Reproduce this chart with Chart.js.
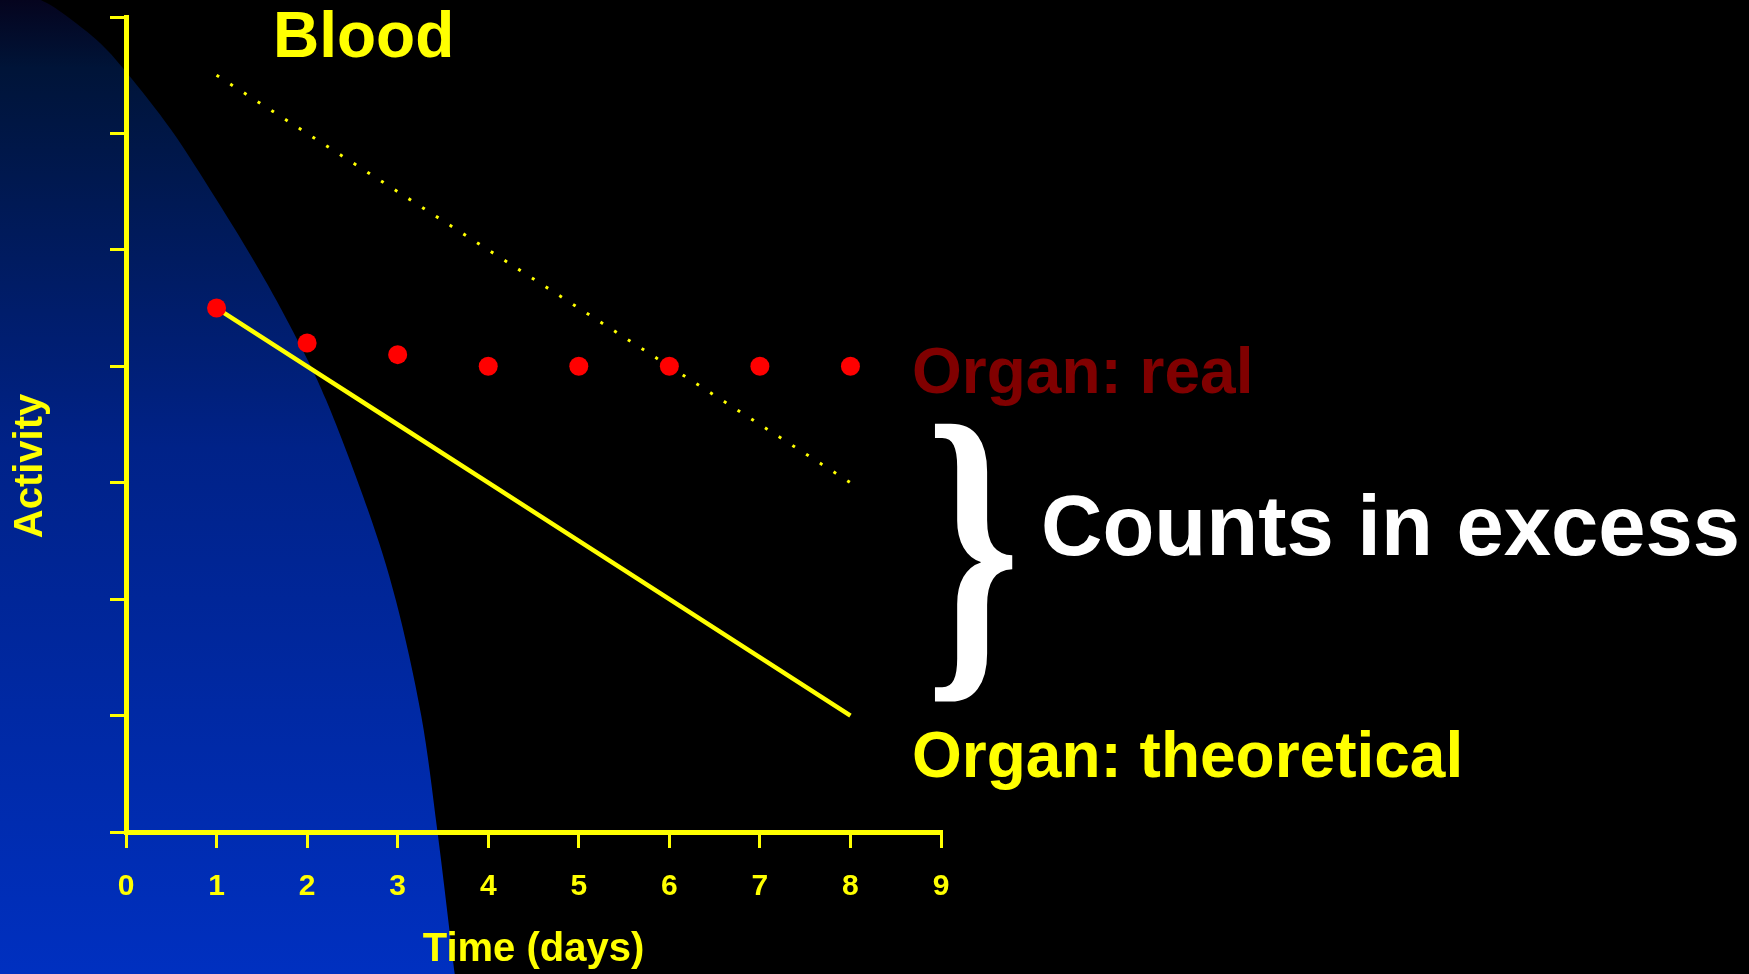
<!DOCTYPE html>
<html>
<head>
<meta charset="utf-8">
<title>Activity vs time</title>
<script src="https://cdn.jsdelivr.net/npm/chart.js@4.4.1/dist/chart.umd.min.js"></script>
<style>
  html, body { margin: 0; padding: 0; background: #000; }
  #wrap { width: 1749px; height: 974px; }
</style>
</head>
<body>
<div id="wrap"><canvas id="myChart" width="1749" height="974"></canvas></div>
<script>
// sampling days
const days = [1, 2, 3, 4, 5, 6, 7, 8];
// measured organ activity
const organReal = [4.5, 4.2, 4.1, 4.0, 4.0, 4.0, 4.0, 4.0];
// organ activity expected from pure decay
const organTheoretical = [4.5, 4.0, 3.5, 3.0, 2.5, 2.0, 1.5, 1.0];
// blood activity
const bloodLevel = [6.5, 6.0, 5.5, 5.0, 4.5, 4.0, 3.5, 3.0];

// outline of the blood pool background (time, activity)
const bloodPoolTime = [-0.95, -0.75, -0.32, 0.01, 0.5, 1.0, 1.47, 1.85, 2.21, 2.67, 2.98, 3.26, 3.44, 3.63];
const bloodPoolActivity = [7.15, 7.06, 6.8, 6.52, 6.03, 5.43, 4.83, 4.29, 3.71, 2.77, 1.99, 1.0, 0.0, -1.22];

const xTicks = [0, 1, 2, 3, 4, 5, 6, 7, 8, 9];

const yellow = "#ffff00";
const font = "Liberation Sans, Arial, sans-serif";

function toPoints(xs, ys) {
  return xs.map((x, i) => ({ x: x, y: ys[i] }));
}

function traceSmooth(ctx, pts) {
  ctx.lineTo(pts[0].x, pts[0].y);
  for (let i = 0; i < pts.length - 1; i++) {
    const p0 = pts[i - 1] || pts[i];
    const p1 = pts[i];
    const p2 = pts[i + 1];
    const p3 = pts[i + 2] || p2;
    ctx.bezierCurveTo(
      p1.x + (p2.x - p0.x) / 6, p1.y + (p2.y - p0.y) / 6,
      p2.x - (p3.x - p1.x) / 6, p2.y - (p3.y - p1.y) / 6,
      p2.x, p2.y
    );
  }
}

// black page with the blue blood pool behind the axes
const bloodPool = {
  id: "bloodPool",
  beforeDraw(chart) {
    const ctx = chart.ctx;
    const xs = chart.scales.x;
    const ys = chart.scales.y;
    const w = chart.width;
    const h = chart.height;
    ctx.save();
    ctx.fillStyle = "#000";
    ctx.fillRect(0, 0, w, h);

    const pts = bloodPoolTime.map((t, i) => ({
      x: xs.getPixelForValue(t),
      y: ys.getPixelForValue(bloodPoolActivity[i]),
    }));
    const grad = ctx.createLinearGradient(0, 0, 0, h);
    grad.addColorStop(0, "rgb(5,4,30)");
    grad.addColorStop(0.07, "rgb(0,20,56)");
    grad.addColorStop(0.46, "rgb(0,34,136)");
    grad.addColorStop(1, "rgb(0,48,192)");

    ctx.beginPath();
    ctx.moveTo(0, 0);
    traceSmooth(ctx, pts);
    ctx.lineTo(0, h);
    ctx.closePath();
    ctx.fillStyle = grad;
    ctx.fill();
    ctx.restore();
  },
};

// titles, series labels and the brace
const annotations = {
  id: "annotations",
  afterDraw(chart) {
    const ctx = chart.ctx;
    const xs = chart.scales.x;
    ctx.save();
    ctx.textBaseline = "alphabetic";

    ctx.font = "bold 40px " + font;
    ctx.fillStyle = yellow;
    ctx.textAlign = "center";
    ctx.fillText("Time (days)", (xs.left + xs.right) / 2, 961);

    ctx.save();
    ctx.translate(42, 466);
    ctx.rotate(-Math.PI / 2);
    ctx.fillText("Activity", 0, 0);
    ctx.restore();

    ctx.textAlign = "left";
    ctx.font = "bold 64px " + font;
    ctx.fillStyle = yellow;
    ctx.fillText("Blood", 273, 57);
    ctx.fillText("Organ: theoretical", 912, 777);
    ctx.fillStyle = "#800000";
    ctx.fillText("Organ: real", 912, 393);

    ctx.fillStyle = "#ffffff";
    ctx.font = "bold 85px " + font;
    ctx.fillText("Counts in excess", 1041, 555);

    // stretch a serif brace into its box
    ctx.font = "bold 200px Liberation Serif, Times New Roman, serif";
    const m = ctx.measureText("}");
    const gw = m.actualBoundingBoxLeft + m.actualBoundingBoxRight;
    const gh = m.actualBoundingBoxAscent + m.actualBoundingBoxDescent;
    const box = { left: 934, top: 425, width: 79, height: 277 };
    ctx.translate(box.left, box.top);
    ctx.scale(box.width / gw, box.height / gh);
    ctx.fillText("}", m.actualBoundingBoxLeft, m.actualBoundingBoxAscent);
    ctx.restore();
  },
};

const axisStyle = {
  grid: {
    drawOnChartArea: false,
    drawTicks: true,
    tickLength: 16,
    color: yellow,
    tickColor: yellow,
    lineWidth: 3,
    tickWidth: 3,
  },
  border: { display: true, color: yellow, width: 5 },
};

const ctx = document.getElementById("myChart").getContext("2d");
const myChart = new Chart(ctx, {
  type: "line",
  data: {
    datasets: [
      {
        label: "Organ: real",
        data: toPoints(days, organReal),
        showLine: false,
        pointRadius: 9.5,
        pointBorderWidth: 0,
        pointBackgroundColor: "#ff0000",
        pointBorderColor: "#ff0000",
      },
      {
        label: "Organ: theoretical",
        data: toPoints(days, organTheoretical),
        borderColor: yellow,
        borderWidth: 4.5,
        pointRadius: 0,
        fill: false,
      },
      {
        label: "Blood",
        data: toPoints(days, bloodLevel),
        borderColor: yellow,
        borderWidth: 3,
        borderDash: [3, 13.3],
        pointRadius: 0,
        fill: false,
      },
    ],
  },
  options: {
    responsive: false,
    animation: false,
    layout: { padding: { top: 17, right: 808, left: 0, bottom: 0 } },
    plugins: {
      legend: { display: false },
      tooltip: { enabled: false },
    },
    scales: {
      x: {
        type: "linear",
        min: 0,
        max: 9,
        afterBuildTicks: (scale) => {
          scale.ticks = xTicks.map((v) => ({ value: v }));
        },
        ticks: {
          color: yellow,
          padding: 21,
          font: { family: font, weight: "bold", size: 30 },
        },
        afterFit: (scale) => {
          scale.height = 142;
        },
        ...axisStyle,
      },
      y: {
        type: "linear",
        min: 0,
        max: 7,
        ticks: { stepSize: 1, display: false },
        afterFit: (scale) => {
          scale.width = 126;
        },
        ...axisStyle,
      },
    },
  },
  plugins: [bloodPool, annotations],
});
</script>
</body>
</html>
